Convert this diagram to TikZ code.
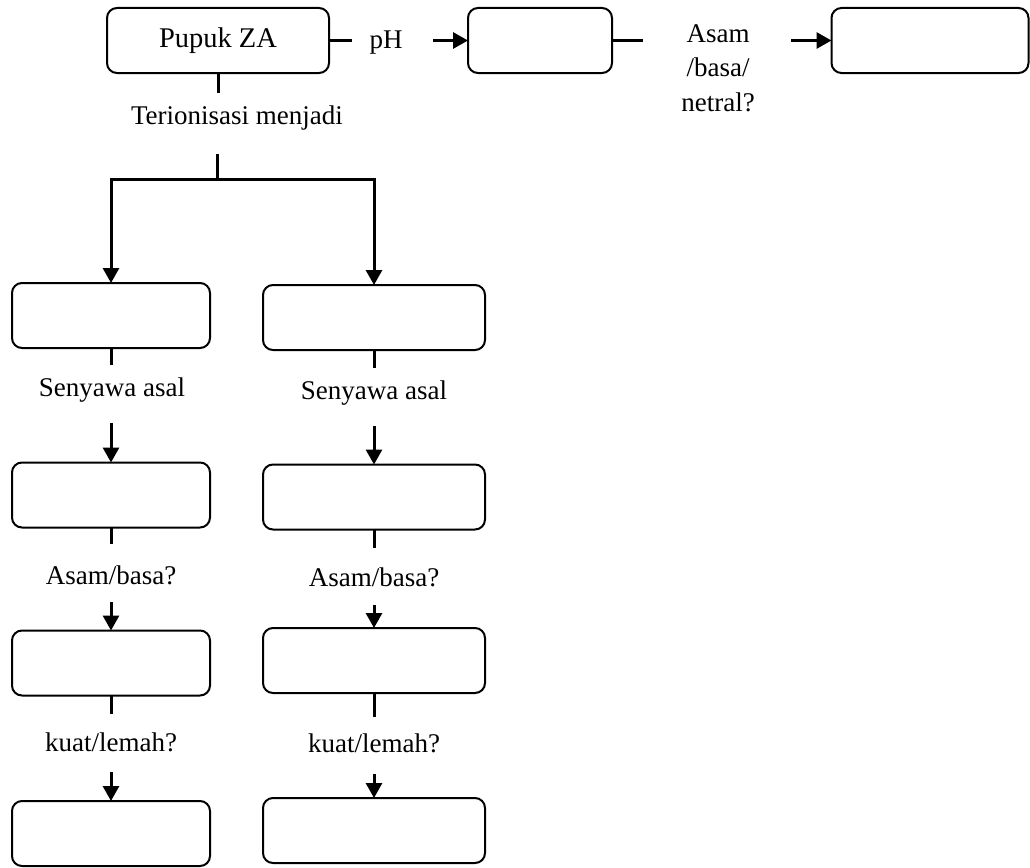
\documentclass[tikz,border=0pt]{standalone}
\usepackage{fontspec}
\setmainfont{Liberation Serif}
\usetikzlibrary{arrows.meta}
\begin{document}
\begin{tikzpicture}[x=1pt,y=-1pt,
  box/.style={draw,line width=2pt,rounded corners=10pt,inner sep=0pt,outer sep=0pt,
    minimum height=65pt,font=\fontsize{28.5}{34}\selectfont},
  lbl/.style={inner sep=0pt,font=\fontsize{27}{34.5}\selectfont,align=center},
  link/.style={line width=3pt},
  flow/.style={line width=3pt,-{Triangle[length=15pt,width=16pt]}}]
\useasboundingbox (0,0) rectangle (1030,867);

% top row
\node[box,minimum width=222pt] (za) at (218,40.5) {Pupuk ZA};
\node[box,minimum width=144pt] (ph) at (540,40.5) {};
\node[box,minimum width=197pt] (sifat) at (930,40.5) {};
\node[lbl] (tph) at (386,43) {pH};
\node[lbl] (tabn) at (718,68) {Asam\\/basa/\\netral?};
\coordinate (phA) at (352,40.5);
\coordinate (phB) at (433,40.5);
\coordinate (abA) at (643,40.5);
\coordinate (abB) at (791,40.5);
\draw[link] (za.east) -- (phA);
\draw[flow] (phB) -- (ph.west);
\draw[link] (ph.east) -- (abA);
\draw[flow] (abB) -- (sifat.west);

% ionisation split
\node[lbl] (ion) at (237,118) {Terionisasi menjadi};
\coordinate (ionA) at (za.south |- 0,93);
\coordinate (splitTop) at (217,154);
\coordinate (split) at (217,179);
\draw[link] (za.south) -- (ionA);

% left column
\node[box,minimum width=198pt] (L1) at (111,315.5) {};
\node[box,minimum width=198pt] (L2) at (111,495) {};
\node[box,minimum width=198pt] (L3) at (111,663) {};
\node[box,minimum width=198pt] (L4) at (111,833.5) {};
\node[lbl] (Ls) at (112,390) {Senyawa asal};
\node[lbl] (La) at (111,575) {Asam/basa?};
\node[lbl] (Lk) at (111,742) {kuat/lemah?};

% right column
\node[box,minimum width=222pt] (R1) at (374,317.5) {};
\node[box,minimum width=222pt] (R2) at (374,497) {};
\node[box,minimum width=222pt] (R3) at (374,660.5) {};
\node[box,minimum width=222pt] (R4) at (374,830.5) {};
\node[lbl] (Rs) at (374,393) {Senyawa asal};
\node[lbl] (Ra) at (374,577) {Asam/basa?};
\node[lbl] (Rk) at (374,743) {kuat/lemah?};

\draw[flow] (splitTop) -- (split) -| (L1.north);
\draw[flow] (split) -| (R1.north);

% left chain
\draw[link] (L1.south) -- ++(0,17);
\draw[flow] (111,423) -- (L2.north);
\draw[link] (L2.south) -- ++(0,16);
\draw[flow] (111,602) -- (L3.north);
\draw[link] (L3.south) -- ++(0,18);
\draw[flow] (111,772) -- (L4.north);

% right chain
\draw[link] (R1.south) -- ++(0,18);
\draw[flow] (374,426) -- (R2.north);
\draw[link] (R2.south) -- ++(0,18);
\draw[flow] (374,605) -- (R3.north);
\draw[link] (R3.south) -- ++(0,24);
\draw[flow] (374,774) -- (R4.north);
\end{tikzpicture}
\end{document}
